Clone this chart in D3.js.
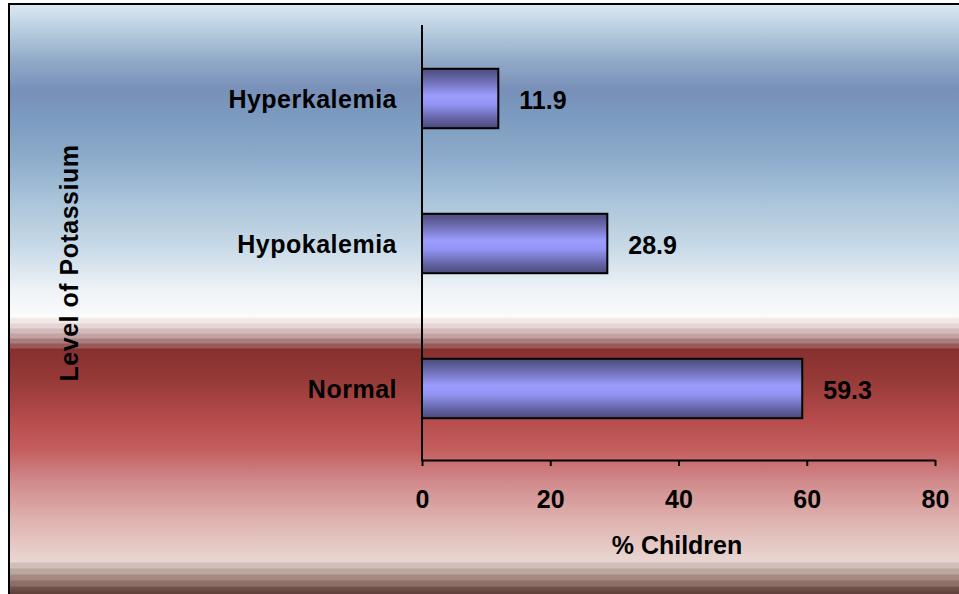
<!DOCTYPE html>
<html><head><meta charset="utf-8">
<script src="https://cdn.jsdelivr.net/npm/d3@7"></script>
<style>
html,body{margin:0;padding:0;background:#fff;}
svg{display:block;}
text{font-family:"Liberation Sans",Arial,sans-serif;font-weight:bold;fill:#000;}
</style></head>
<body>
<script>
const categories = ["Hyperkalemia", "Hypokalemia", "Normal"];
const values = [11.9, 28.9, 59.3];
const xTicks = [0, 20, 40, 60, 80];
const xTitle = "% Children";
const yTitle = "Level of Potassium";

const W = 959, H = 594;
const svg = d3.select("body").append("svg").attr("width", W).attr("height", H);
const defs = svg.append("defs");

// background gradient (y offset px, colour)
const bgStops = [
  [4,"#dce8f2"],[20,"#c6d8e8"],[40,"#aac2d8"],[60,"#92aac8"],[90,"#7890b8"],
  [120,"#7c9cc0"],[160,"#8eaccb"],[200,"#a9c4da"],[250,"#cadbe8"],[290,"#eef3f7"],
  [317,"#fbfbfb"],[319,"#f2e8e8"],[323,"#f2e8e8"],[324,"#e4d4d4"],[328,"#e4d4d4"],
  [329,"#d4baba"],[333,"#d4baba"],[334,"#c2a2a2"],[338,"#c2a2a2"],[339,"#aa7c7c"],
  [343,"#aa7c7c"],[344,"#985a58"],[348,"#985a58"],[349,"#86302e"],[380,"#963a38"],
  [420,"#b64c4c"],[450,"#c45e5e"],[480,"#d0888a"],[520,"#deb2ae"],[556,"#e8d2ce"],
  [562,"#e8d6d0"],[563,"#cfbfb8"],[568,"#cfbfb8"],[569,"#bba69e"],[574,"#bba69e"],
  [575,"#a68a82"],[580,"#a68a82"],[581,"#8e6e66"],[586,"#8e6e66"],[587,"#74544c"],
  [594,"#5e403a"]
];
const bg = defs.append("linearGradient").attr("id","bg")
  .attr("gradientUnits","userSpaceOnUse").attr("x1",0).attr("y1",0).attr("x2",0).attr("y2",H);
bg.selectAll("stop").data(bgStops).join("stop")
  .attr("offset", d => d[0]/H).attr("stop-color", d => d[1]);

const bar = defs.append("linearGradient").attr("id","bar")
  .attr("x1",0).attr("y1",0).attr("x2",0).attr("y2",1);
[[0,"#4c4c7c"],[0.2,"#6c6cb0"],[0.45,"#9c9cff"],[0.6,"#9494f4"],[0.85,"#6262a4"],[1,"#4a4a78"]]
  .forEach(s => bar.append("stop").attr("offset", s[0]).attr("stop-color", s[1]));

svg.append("rect").attr("x",9).attr("y",4).attr("width",W+10).attr("height",H+10)
  .attr("fill","url(#bg)").attr("stroke","#000").attr("stroke-width",2);

const x = d3.scaleLinear().domain([0,80]).range([422,935]);
const y = d3.scaleBand().domain(categories).range([26,461]).paddingInner(0.59).paddingOuter(0.295);

// bars
svg.selectAll("rect.bar").data(categories).join("rect").attr("class","bar")
  .attr("x", x(0)).attr("y", d => y(d))
  .attr("width", (d,i) => x(values[i]) - x(0)).attr("height", y.bandwidth())
  .attr("fill","url(#bar)").attr("stroke","#000").attr("stroke-width",2);

// value labels
svg.selectAll("text.val").data(categories).join("text").attr("class","val")
  .attr("x", (d,i) => x(values[i]) + 21).attr("y", d => y(d) + y.bandwidth()/2 + 10)
  .attr("font-size", 25)
  .text((d,i) => values[i].toFixed(1));

// category labels
svg.selectAll("text.cat").data(categories).join("text").attr("class","cat")
  .attr("x", 397).attr("y", d => y(d) + y.bandwidth()/2 + 9)
  .attr("text-anchor","end").attr("font-size", 25).attr("letter-spacing", 0.5)
  .text(d => d);

// axes
const xAxis = svg.append("g").attr("transform","translate(0,460)")
  .call(d3.axisBottom(x).tickValues(xTicks).tickSize(6).tickSizeOuter(0).tickPadding(24));
xAxis.select(".domain").attr("stroke","#000").attr("stroke-width",2);
xAxis.selectAll(".tick line").attr("stroke","#000").attr("stroke-width",2);
xAxis.selectAll(".tick text").attr("font-size",25).attr("font-family",null).attr("fill","#000");

const yAxis = svg.append("g").attr("transform","translate(422,0)")
  .call(d3.axisLeft(y).tickSize(0).tickFormat(""));
yAxis.select(".domain").attr("stroke","#000").attr("stroke-width",2)
  .attr("d","M0,25V461");

svg.append("text").attr("x", 677).attr("y", 554).attr("text-anchor","middle")
  .attr("font-size", 25).text(xTitle);

svg.append("text").attr("transform","translate(78,263) rotate(-90)")
  .attr("text-anchor","middle").attr("font-size", 25).attr("letter-spacing", 0.5)
  .text(yTitle);
</script>
</body></html>
